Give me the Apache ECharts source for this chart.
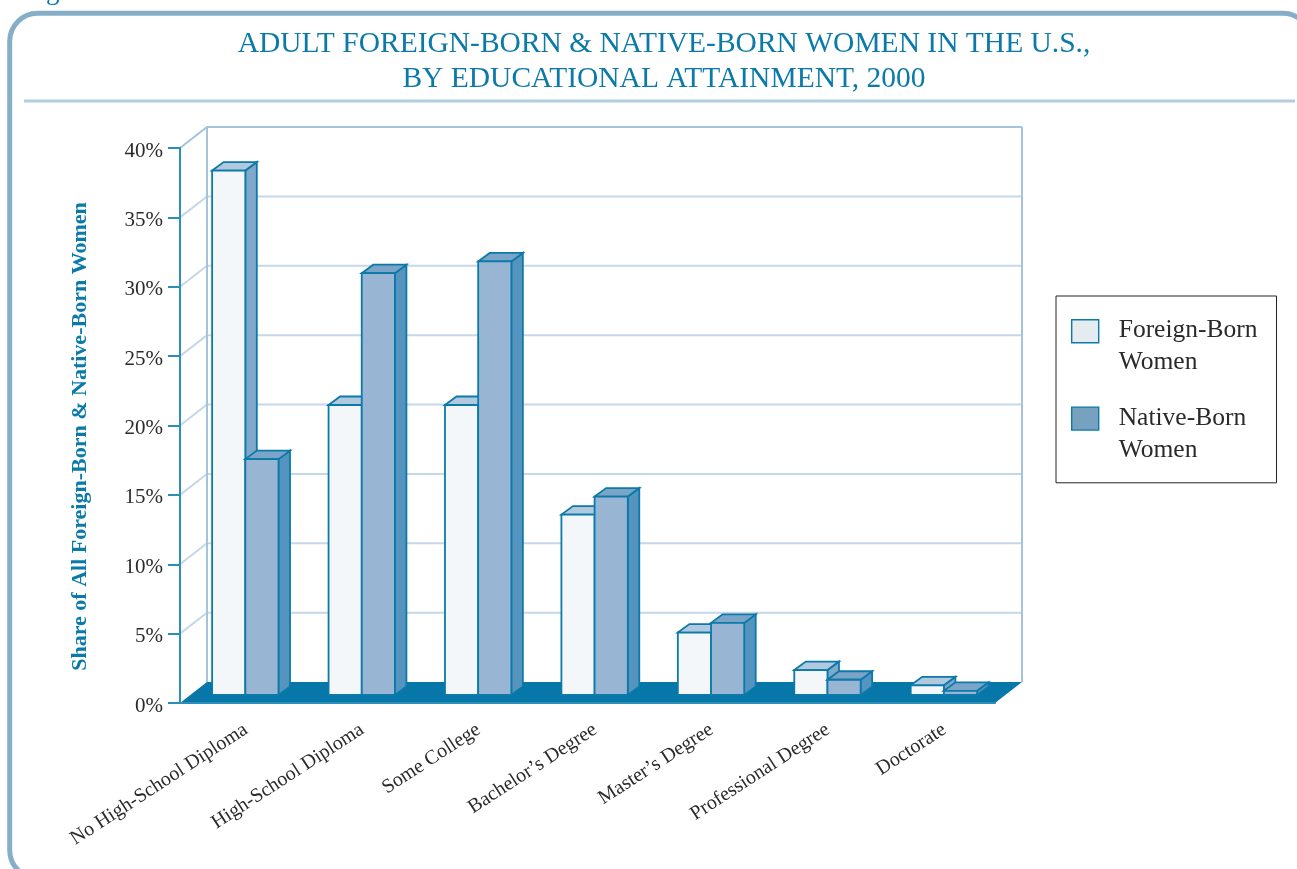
<!DOCTYPE html>
<html><head><meta charset="utf-8">
<style>html,body{margin:0;padding:0;background:#fff}#c{width:1297px;height:869px}</style>
<script src="https://cdn.jsdelivr.net/npm/echarts@6/dist/echarts.min.js"></script>
</head><body><div id="c"></div>
<script>
const categories = ['No High-School Diploma','High-School Diploma','Some College',"Bachelor\u2019s Degree","Master\u2019s Degree",'Professional Degree','Doctorate'];
const foreignBorn = [37.8, 20.9, 20.9, 13.0, 4.5, 1.8, 0.7];
const nativeBorn = [17.0, 30.4, 31.25, 14.3, 5.2, 1.1, 0.3];
const yTicks = [0,5,10,15,20,25,30,35,40];
const TEAL = '#0b7aa9', LINE = '#2b8fba', SERIF = '"Liberation Serif", serif';

const chart = echarts.init(document.getElementById('c'), null, {renderer:'canvas'});

function poly(points, fill, stroke, w){
  return {type:'polygon', shape:{points}, style:{fill, stroke:stroke||'none', lineWidth:w||0, lineJoin:'miter'}};
}
function barRender(offsetBands, front, top, side){
  return function(params, api){
    const i = api.value(0), v = api.value(1);
    const band = api.size([1,0])[0];
    const c0 = api.coord([i,0]), c1 = api.coord([i,v]);
    const w = band*0.285;
    const x = c0[0] - band*0.224 + offsetBands*w, x2 = x + w;
    const yb = c0[1] - 8, yt = c1[1] - 8;
    const dx = 11.5, dy = -8.5;
    const s = TEAL;
    return {type:'group', children:[
      poly([[x2,yb],[x2+dx,yb+dy],[x2+dx,yt+dy],[x2,yt]], side, s, 1.8),
      poly([[x,yt],[x+dx,yt+dy],[x2+dx,yt+dy],[x2,yt]], top, s, 1.8),
      poly([[x,yb],[x2,yb],[x2,yt],[x,yt]], front, s, 1.8)
    ]};
  };
}
function wallRender(params, api){
  const dx = 27, dy = -21;
  const a = api.coord([0,0]), size = api.size([1,0])[0];
  const left = a[0]-size/2, right = left + size*categories.length;
  const base = a[1];
  const top = api.coord([0,40])[1];
  const kids = [];
  yTicks.forEach(t=>{
    const y = api.coord([0,t])[1];
    if(t>0) kids.push({type:'polyline', shape:{points:[[left,y],[left+dx,y+dy],[right+dx,y+dy]]}, style:{stroke:t===40?'#a6c3dc':'#c6d7e8', lineWidth:2, fill:'none'}});
  });
  kids.push({type:'line', shape:{x1:left+dx,y1:top+dy,x2:left+dx,y2:base+dy}, style:{stroke:'#a6c3dc',lineWidth:2}});
  kids.push({type:'line', shape:{x1:right+dx,y1:top+dy,x2:right+dx,y2:base+dy}, style:{stroke:'#a6c3dc',lineWidth:2}});
  kids.push(poly([[left,base],[left+dx,base+dy],[right+dx,base+dy],[right,base]], '#0677a8'));
  return {type:'group', children:kids};
}
const swatchIcon = 'path://M0 0M0 5H27V28H0ZM27 64';

chart.setOption({
  animation:false,
  backgroundColor:'#fff',
  title:{
    text:'ADULT FOREIGN-BORN & NATIVE-BORN WOMEN IN THE U.S.,\nBY EDUCATIONAL ATTAINMENT, 2000',
    left:659, top:22, textAlign:'center',
    textStyle:{fontFamily:SERIF, fontSize:29.5, fontWeight:'normal', color:TEAL, lineHeight:35}
  },
  grid:{left:180, right:302, top:148, bottom:166, containLabel:false},
  xAxis:{
    type:'category', data:categories, boundaryGap:true, z:5,
    axisLine:{lineStyle:{color:LINE,width:2}},
    axisTick:{length:11,lineStyle:{color:LINE,width:2}},
    axisLabel:{rotate:33, interval:0, margin:30, fontFamily:SERIF, fontSize:20, color:'#2a2a2a', padding:[0,-9,0,0]}
  },
  yAxis:{
    type:'value', min:0, max:40, interval:5, z:5,
    name:'Share of All Foreign-Born & Native-Born Women', nameLocation:'middle', nameGap:89, nameRotate:90,
    nameTextStyle:{fontFamily:SERIF, fontSize:22, fontWeight:'bold', color:TEAL, padding:[0,22,0,0]},
    axisLine:{show:true,lineStyle:{color:LINE,width:2}},
    axisTick:{show:true,length:12,lineStyle:{color:LINE,width:2}},
    axisLabel:{formatter:'{value}%', margin:17, fontFamily:SERIF, fontSize:21, color:'#2a2a2a', verticalAlign:'top', lineHeight:6},
    splitLine:{show:false}
  },
  legend:{
    orient:'vertical', left:1056, top:296, itemWidth:27, itemHeight:64, itemGap:22,
    padding:[18,19,16,15], borderColor:'#222', borderWidth:1, selectedMode:false, itemStyle:{borderWidth:1.4},
    textStyle:{fontFamily:SERIF, fontSize:25.5, color:'#2a2a2a', lineHeight:32, padding:[0,0,0,15]},
    data:[
      {name:'Foreign-Born\nWomen', icon:swatchIcon, itemStyle:{color:'#e4ecf0',borderColor:TEAL}},
      {name:'Native-Born\nWomen', icon:swatchIcon, itemStyle:{color:'#76a2c0',borderColor:TEAL}}
    ]
  },
  graphic:[
    {type:'rect', z:-1, shape:{x:9.7,y:13.2,width:1301,height:865,r:28}, style:{fill:'none',stroke:'#86aec8',lineWidth:5}},
    {type:'line', z:-1, shape:{x1:24,y1:101,x2:1295,y2:101}, style:{stroke:'#b3cde0',lineWidth:3}},
    {type:'text', z:-1, x:46, y:-22, style:{text:'g', fontFamily:SERIF, fontSize:27, fill:TEAL}}
  ],
  series:[
    {type:'custom', name:'wall', silent:true, clip:false, z:1, renderItem:wallRender, data:[[0,0]], encode:{x:0,y:1}},
    {type:'custom', name:'Foreign-Born\nWomen', clip:false, z:2, renderItem:barRender(0,'#f3f7fa','#b0c9df','#7fa8c9'),
      data:foreignBorn.map((v,i)=>[i,v]), encode:{x:0,y:1}, itemStyle:{color:'#e4ecf0'}},
    {type:'custom', name:'Native-Born\nWomen', clip:false, z:2, renderItem:barRender(1,'#98b6d3','#7ba5c8','#5594bf'),
      data:nativeBorn.map((v,i)=>[i,v]), encode:{x:0,y:1}, itemStyle:{color:'#76a2c0'}}
  ]
});
</script></body></html>
